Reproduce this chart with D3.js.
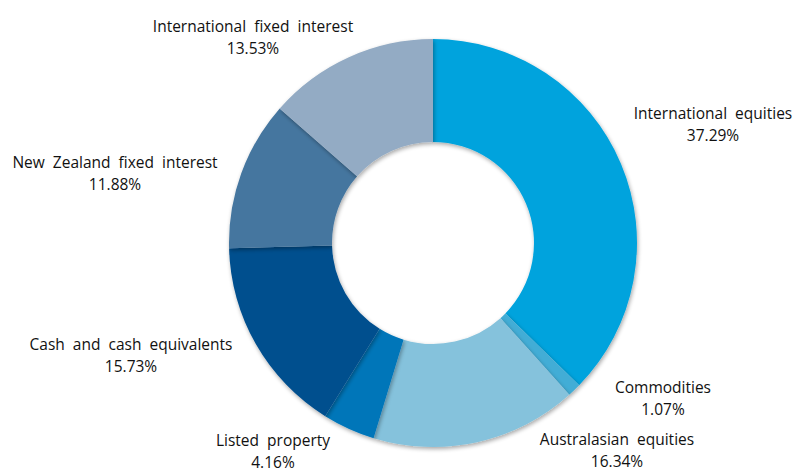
<!DOCTYPE html>
<html><head><meta charset="utf-8">
<script src="https://cdn.jsdelivr.net/npm/d3@7"></script>
<style>body{margin:0;background:#fff}</style>
</head><body>
<svg id="chart" width="800" height="473"></svg>
<script>
const categories = ["International equities","Commodities","Australasian equities","Listed property","Cash and cash equivalents","New Zealand fixed interest","International fixed interest"];
const values = [37.29,1.07,16.34,4.16,15.73,11.88,13.53];
const colors = ["#02A3DD","#42ADD6","#85C2DC","#0076B9","#004F8E","#45769F","#93ABC4"];
const labelPos = [[713,114],[663,388],[617,440],[273,441],[131,345],[115,163],[253,27]];

const svg = d3.select("#chart");
const cx = 433, cy = 243, R = 204, r = 101;
const defs = svg.append("defs");
const f = defs.append("filter").attr("id","sh").attr("x","-20%").attr("y","-20%").attr("width","140%").attr("height","140%");
f.append("feGaussianBlur").attr("in","SourceAlpha").attr("stdDeviation",2);
f.append("feOffset").attr("dx",1).attr("dy",2).attr("result","b");
f.append("feComponentTransfer").append("feFuncA").attr("type","linear").attr("slope",0.35);
const m = f.append("feMerge"); m.append("feMergeNode"); m.append("feMergeNode").attr("in","SourceGraphic");

const pie = d3.pie().sort(null).value(d=>d);
const arc = d3.arc().innerRadius(r).outerRadius(R);
const g = svg.append("g").attr("transform",`translate(${cx},${cy})`);
g.selectAll("path").data(pie(values)).enter().append("path")
  .attr("d",arc).attr("fill",(d,i)=>colors[i]).attr("filter","url(#sh)");

const lab = svg.append("g").attr("font-family","'Open Sans', sans-serif").attr("font-size",15.5).attr("fill","#111").attr("text-anchor","middle");
categories.forEach((c,i)=>{
  const t = lab.append("text").attr("x",labelPos[i][0]).attr("y",labelPos[i][1]+5).attr("word-spacing","4px");
  t.append("tspan").attr("x",labelPos[i][0]).text(c);
  t.append("tspan").attr("x",labelPos[i][0]).attr("dy",22).text(d3.format(".2f")(values[i])+"%");
});
</script>
</body></html>
